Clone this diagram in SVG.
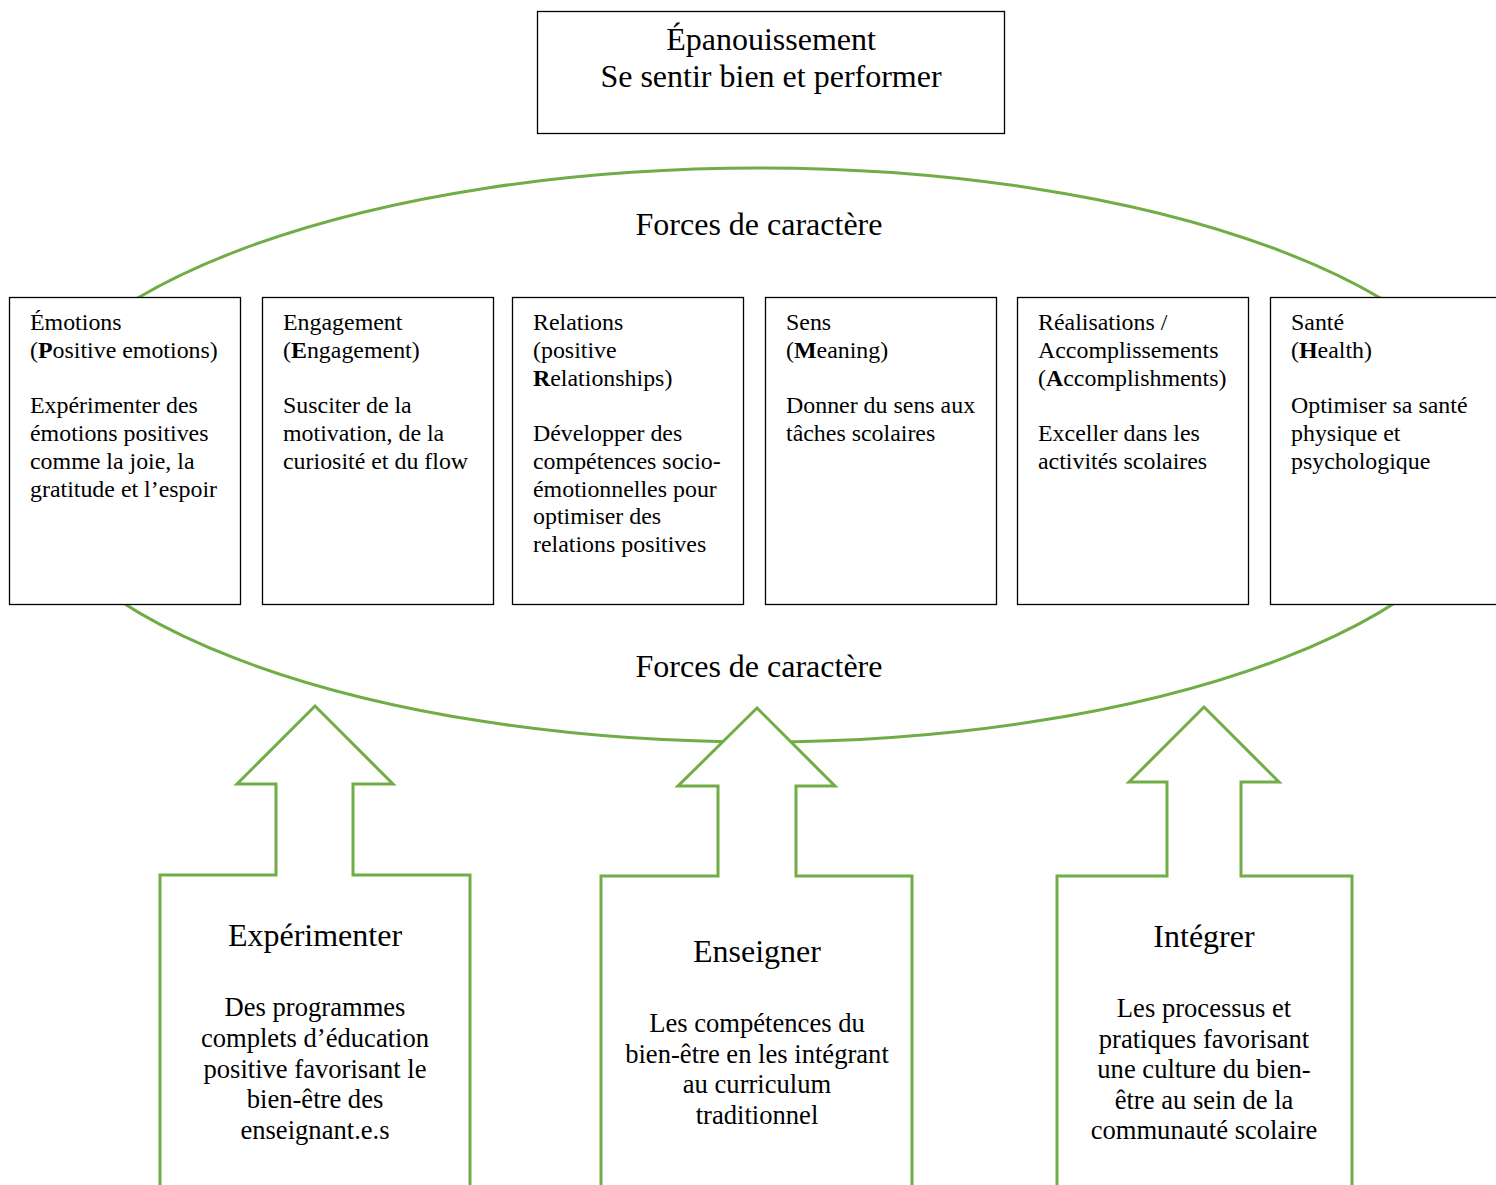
<svg xmlns="http://www.w3.org/2000/svg" width="1496" height="1185" viewBox="0 0 1496 1185">
<style>
text{font-family:"Liberation Serif","Times New Roman",serif;fill:#000}
.box{fill:#fff;stroke:#000;stroke-width:1.3}
.green{fill:#fff;stroke:#70AD47;stroke-width:3}
.t{font-size:23.9px}
.h{font-size:32px}
.a{font-size:32px}
.b{font-size:26.6px}
</style>
<rect width="1496" height="1185" fill="#fff"/>
<g id="connectors">
<ellipse cx="759" cy="455" rx="742" ry="287" fill="none" stroke="#70AD47" stroke-width="3"/>
</g>
<g id="top">
<rect class="box" x="537.5" y="11.5" width="467" height="122"/>
<text class="h" x="771" y="50" text-anchor="middle">Épanouissement</text>
<text class="h" x="771" y="87" text-anchor="middle">Se sentir bien et performer</text>
</g>
<text class="h" x="759" y="235" text-anchor="middle">Forces de caractère</text>
<text class="h" x="759" y="677" text-anchor="middle">Forces de caractère</text>
<g id="emotions">
<rect class="box" x="9.5" y="297.5" width="231" height="307"/>
<text class="t" x="30" y="330">Émotions</text>
<text class="t" x="30" y="358">(<tspan font-weight="bold">P</tspan>ositive emotions)</text>
<text class="t" x="30" y="413">Expérimenter des</text>
<text class="t" x="30" y="441">émotions positives</text>
<text class="t" x="30" y="469">comme la joie, la</text>
<text class="t" x="30" y="497">gratitude et l’espoir</text>
</g>
<g id="engagement">
<rect class="box" x="262.5" y="297.5" width="231" height="307"/>
<text class="t" x="283" y="330">Engagement</text>
<text class="t" x="283" y="358">(<tspan font-weight="bold">E</tspan>ngagement)</text>
<text class="t" x="283" y="413">Susciter de la</text>
<text class="t" x="283" y="441">motivation, de la</text>
<text class="t" x="283" y="469">curiosité et du flow</text>
</g>
<g id="relations">
<rect class="box" x="512.5" y="297.5" width="231" height="307"/>
<text class="t" x="533" y="330">Relations</text>
<text class="t" x="533" y="358">(positive</text>
<text class="t" x="533" y="386"><tspan font-weight="bold">R</tspan>elationships)</text>
<text class="t" x="533" y="441">Développer des</text>
<text class="t" x="533" y="469">compétences socio-</text>
<text class="t" x="533" y="497">émotionnelles pour</text>
<text class="t" x="533" y="524">optimiser des</text>
<text class="t" x="533" y="552">relations positives</text>
</g>
<g id="sens">
<rect class="box" x="765.5" y="297.5" width="231" height="307"/>
<text class="t" x="786" y="330">Sens</text>
<text class="t" x="786" y="358">(<tspan font-weight="bold">M</tspan>eaning)</text>
<text class="t" x="786" y="413">Donner du sens aux</text>
<text class="t" x="786" y="441">tâches scolaires</text>
</g>
<g id="realisations">
<rect class="box" x="1017.5" y="297.5" width="231" height="307"/>
<text class="t" x="1038" y="330">Réalisations /</text>
<text class="t" x="1038" y="358">Accomplissements</text>
<text class="t" x="1038" y="386">(<tspan font-weight="bold">A</tspan>ccomplishments)</text>
<text class="t" x="1038" y="441">Exceller dans les</text>
<text class="t" x="1038" y="469">activités scolaires</text>
</g>
<g id="sante">
<rect class="box" x="1270.5" y="297.5" width="240" height="307"/>
<text class="t" x="1291" y="330">Santé</text>
<text class="t" x="1291" y="358">(<tspan font-weight="bold">H</tspan>ealth)</text>
<text class="t" x="1291" y="413">Optimiser sa santé</text>
<text class="t" x="1291" y="441">physique et</text>
<text class="t" x="1291" y="469">psychologique</text>
</g>
<g id="experimenter">
<path class="green" d="M315,706 L393,784 L353,784 L353,875 L470,875 L470,1195 L160,1195 L160,875 L276,875 L276,784 L237,784 Z"/>
<text class="a" x="315" y="946" text-anchor="middle">Expérimenter</text>
<text class="b" x="315" y="1016" text-anchor="middle">Des programmes</text>
<text class="b" x="315" y="1047" text-anchor="middle">complets d’éducation</text>
<text class="b" x="315" y="1078" text-anchor="middle">positive favorisant le</text>
<text class="b" x="315" y="1108" text-anchor="middle">bien-être des</text>
<text class="b" x="315" y="1139" text-anchor="middle">enseignant.e.s</text>
</g>
<g id="enseigner">
<path class="green" d="M757,708 L835,786 L796,786 L796,876 L912,876 L912,1195 L601,1195 L601,876 L718,876 L718,786 L678,786 Z"/>
<text class="a" x="757" y="962" text-anchor="middle">Enseigner</text>
<text class="b" x="757" y="1032" text-anchor="middle">Les compétences du</text>
<text class="b" x="757" y="1063" text-anchor="middle">bien-être en les intégrant</text>
<text class="b" x="757" y="1093" text-anchor="middle">au curriculum</text>
<text class="b" x="757" y="1124" text-anchor="middle">traditionnel</text>
</g>
<g id="integrer">
<path class="green" d="M1204,707 L1279,782 L1241,782 L1241,876 L1352,876 L1352,1195 L1057,1195 L1057,876 L1167,876 L1167,782 L1129,782 Z"/>
<text class="a" x="1204" y="947" text-anchor="middle">Intégrer</text>
<text class="b" x="1204" y="1017" text-anchor="middle">Les processus et</text>
<text class="b" x="1204" y="1048" text-anchor="middle">pratiques favorisant</text>
<text class="b" x="1204" y="1078" text-anchor="middle">une culture du bien-</text>
<text class="b" x="1204" y="1109" text-anchor="middle">être au sein de la</text>
<text class="b" x="1204" y="1139" text-anchor="middle">communauté scolaire</text>
</g>
</svg>
